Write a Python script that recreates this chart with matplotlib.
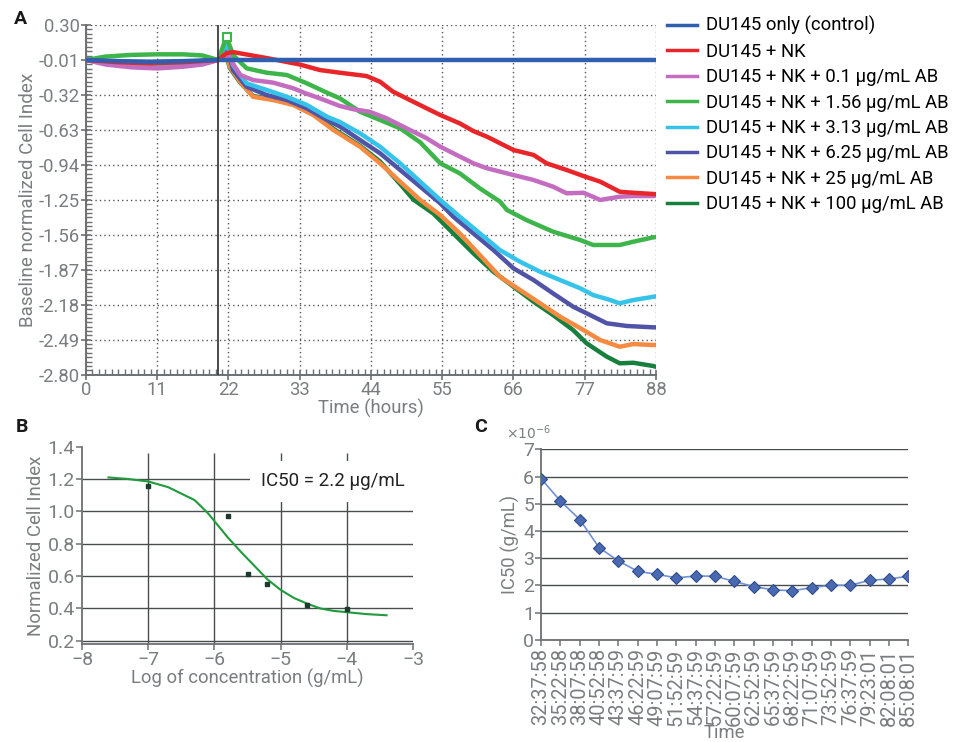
import numpy as np
import matplotlib.pyplot as plt
from matplotlib.ticker import MultipleLocator, AutoMinorLocator, FixedLocator, FuncFormatter

plt.rcParams['font.family'] = ['Roboto', 'DejaVu Sans']

GREY = '#7a7d80'

# ---- panel A: real-time cell index traces ----
t_control = [0, 5, 10, 15, 20.4, 21.7, 30, 44, 60, 77, 88]
v_control = [-0.01, -0.02, -0.025, -0.02, -0.01, -0.01, -0.01, -0.01, -0.01, -0.01, -0.01]

t_nk = [0, 5, 10, 15, 20.4, 21.7, 22.7, 27.9, 33.0, 36.1, 39.2, 43.3, 45.4, 47.4, 50.0,
        52.6, 54.7, 57.7, 59.8, 61.9, 66.0, 69.1, 71.1, 74.2, 76.8, 79.4, 82.4, 84.5, 87.6, 88]
v_nk = [-0.01, -0.03, -0.04, -0.03, -0.01, 0.05, 0.06, 0.007, -0.05, -0.099, -0.123, -0.152,
        -0.203, -0.291, -0.365, -0.439, -0.498, -0.572, -0.640, -0.690, -0.808, -0.852, -0.926,
        -0.985, -1.039, -1.089, -1.178, -1.187, -1.198, -1.20]

t_ab01 = [0, 3, 7, 11, 15, 18, 20.4, 21.7, 23.8, 25.8, 28.9, 32.0, 34.1, 36.1, 39.2, 41.3,
          43.8, 46.4, 49.5, 52.6, 54.7, 56.7, 59.8, 61.9, 66.0, 69.1, 72.1, 74.2, 76.8, 79.4,
          82.4, 84.5, 87.6, 88]
v_ab01 = [-0.01, -0.05, -0.075, -0.085, -0.07, -0.05, -0.01, 0.05, -0.143, -0.188, -0.211,
          -0.261, -0.31, -0.35, -0.418, -0.447, -0.469, -0.527, -0.616, -0.704, -0.779, -0.837,
          -0.926, -0.970, -1.030, -1.074, -1.133, -1.192, -1.187, -1.251, -1.222, -1.216,
          -1.216, -1.21]

t_ab156 = [0, 3, 7, 11, 15, 18, 20.4, 21.7, 22.7, 24.8, 27.9, 31.0, 34.1, 37.2, 39.2, 42.3,
           45.4, 48.5, 51.6, 54.7, 57.7, 60.8, 63.9, 65.0, 68.0, 72.1, 76.3, 78.3, 82.4, 84.5,
           87.6, 88]
v_ab156 = [-0.01, 0.02, 0.035, 0.04, 0.04, 0.03, -0.01, 0.196, 0.034, -0.084, -0.123, -0.143,
           -0.217, -0.300, -0.350, -0.469, -0.542, -0.616, -0.74, -0.926, -1.015, -1.148,
           -1.265, -1.340, -1.429, -1.532, -1.606, -1.650, -1.650, -1.621, -1.582, -1.58]

t_ab313 = [0, 3, 7, 11, 15, 18, 20.4, 21.7, 22.7, 24.8, 27.9, 31.0, 34.1, 37.2, 39.2, 42.3,
           45.4, 48.5, 51.6, 54.7, 57.7, 60.8, 63.9, 67.0, 70.1, 73.2, 76.3, 78.3, 80.5, 82.4,
           84.5, 87.6, 88]
v_ab313 = [-0.01, -0.04, -0.05, -0.055, -0.05, -0.04, -0.01, 0.14, -0.055, -0.217, -0.276,
           -0.336, -0.409, -0.513, -0.56, -0.660, -0.779, -0.926, -1.089, -1.251, -1.399,
           -1.547, -1.695, -1.798, -1.887, -1.961, -2.034, -2.094, -2.13, -2.167, -2.138,
           -2.109, -2.105]

t_ab625 = [0, 3, 7, 11, 15, 18, 20.4, 21.7, 22.7, 24.8, 27.9, 31.0, 34.1, 37.2, 39.2, 42.3,
           45.4, 48.5, 51.6, 54.7, 56.7, 59.8, 62.9, 66.0, 69.1, 72.1, 75.2, 77.3, 80.4, 83.5,
           87.6, 88]
v_ab625 = [-0.01, -0.02, -0.03, -0.03, -0.025, -0.02, -0.01, 0.12, -0.099, -0.247, -0.321,
           -0.365, -0.439, -0.542, -0.60, -0.719, -0.837, -0.985, -1.133, -1.281, -1.399,
           -1.547, -1.695, -1.857, -1.961, -2.079, -2.197, -2.256, -2.344, -2.368, -2.380, -2.38]

t_ab25 = [0, 3, 7, 11, 15, 18, 20.4, 21.7, 22.2, 23.8, 25.8, 28.9, 32.0, 35.1, 38.2, 42.3,
          45.4, 48.5, 51.6, 54.7, 57.7, 60.8, 63.9, 67.0, 70.1, 73.2, 76.8, 79.4, 82.4, 84.5,
          87.6, 88]
v_ab25 = [-0.01, -0.04, -0.06, -0.065, -0.06, -0.045, -0.01, 0.03, -0.069, -0.203, -0.336,
          -0.365, -0.409, -0.498, -0.631, -0.779, -0.926, -1.089, -1.251, -1.385, -1.547,
          -1.739, -1.931, -2.049, -2.167, -2.286, -2.404, -2.493, -2.552, -2.528, -2.537, -2.535]

t_ab100 = [0, 5, 10, 15, 20.4, 21.7, 22.2, 23.8, 25.8, 28.9, 32.0, 35.1, 38.2, 42.3, 45.4,
           48.5, 50.6, 53.6, 56.7, 59.8, 62.9, 66.0, 69.1, 72.1, 75.2, 77.3, 80.4, 82.4, 84.5,
           87.6, 88]
v_ab100 = [-0.01, -0.03, -0.04, -0.03, -0.01, 0.02, -0.08, -0.21, -0.33, -0.36, -0.40, -0.49,
           -0.62, -0.77, -0.91, -1.11, -1.25, -1.37, -1.547, -1.724, -1.887, -2.020, -2.153,
           -2.271, -2.404, -2.522, -2.640, -2.699, -2.694, -2.723, -2.73]

series_labels = ['DU145 only (control)', 'DU145 + NK', 'DU145 + NK + 0.1 µg/mL AB',
                 'DU145 + NK + 1.56 µg/mL AB', 'DU145 + NK + 3.13 µg/mL AB',
                 'DU145 + NK + 6.25 µg/mL AB', 'DU145 + NK + 25 µg/mL AB',
                 'DU145 + NK + 100 µg/mL AB']
series_colors = ['#2f5fae', '#e8262a', '#c46cc0', '#3db54a', '#35c3ea', '#5154a6',
                 '#f68a40', '#17803d']
series_t = [t_control, t_nk, t_ab01, t_ab156, t_ab313, t_ab625, t_ab25, t_ab100]
series_v = [v_control, v_nk, v_ab01, v_ab156, v_ab313, v_ab625, v_ab25, v_ab100]
treatment_time = 20.4

# ---- panel B: dose response at one time point ----
log_conc = [-7.0, -5.8, -5.5, -5.2, -4.6, -4.0]
norm_ci = [1.155, 0.972, 0.614, 0.552, 0.424, 0.399]
fit_x = [-7.6, -7.3, -7.0, -6.7, -6.5, -6.3, -6.1, -6.0, -5.8, -5.6, -5.4, -5.2, -5.0, -4.8,
         -4.6, -4.4, -4.2, -4.0, -3.7, -3.4]
fit_y = [1.21, 1.20, 1.185, 1.15, 1.11, 1.07, 0.99, 0.94, 0.84, 0.75, 0.665, 0.58, 0.515,
         0.465, 0.43, 0.40, 0.385, 0.377, 0.365, 0.358]

# ---- panel C: IC50 over time ----
time_labels = ['32:37:58', '35:22:58', '38:07:58', '40:52:58', '43:37:59', '46:22:59',
               '49:07:59', '51:52:59', '54:37:59', '57:22:59', '60:07:59', '62:52:59',
               '65:37:59', '68:22:59', '71:07:59', '73:52:59', '76:37:59', '79:23:01',
               '82:08:01', '85:08:01']
ic50 = [5.92e-6, 5.10e-6, 4.42e-6, 3.39e-6, 2.90e-6, 2.52e-6, 2.41e-6, 2.28e-6, 2.35e-6,
        2.34e-6, 2.15e-6, 1.96e-6, 1.84e-6, 1.81e-6, 1.92e-6, 2.01e-6, 2.01e-6, 2.19e-6,
        2.24e-6, 2.34e-6]


fig = plt.figure(figsize=(9.68, 7.42), dpi=100)

# panel A
axA = fig.add_axes([0.0888, 0.495, 0.5889, 0.4713])
for i, (t, v, c, lab) in enumerate(zip(series_t, series_v, series_colors, series_labels)):
    z = 10 if i == 0 else 3 + (8 - i) * 0.1
    if i == 3:
        # open square on the peak right after treatment
        axA.plot(t, v, color=c, lw=3.2, label=lab, zorder=z, marker='s', markevery=[7],
                 ms=6, mfc='white', mec=c, mew=1.5)
    else:
        axA.plot(t, v, color=c, lw=3.2, label=lab, zorder=z)
axA.axvline(treatment_time, color='#3a3d3f', lw=1.3, zorder=12)
axA.set_xlim(0, 88)
axA.set_ylim(-2.80, 0.30)
axA.xaxis.set_major_locator(MultipleLocator(11))
axA.xaxis.set_minor_locator(MultipleLocator(1))
a_yticks = np.round(np.arange(0.30, -2.81, -0.31), 2)
axA.yaxis.set_major_locator(FixedLocator(a_yticks))
axA.yaxis.set_minor_locator(AutoMinorLocator(8))
axA.set_yticklabels([f'{y:.2f}' for y in a_yticks])
axA.grid(True, which='major', color='#555555', lw=1.0, ls=(0, (1, 2.2)))
for side in ['top', 'right']:
    axA.spines[side].set_visible(False)
for side in ['left', 'bottom']:
    axA.spines[side].set_color('#6d7073')
    axA.spines[side].set_linewidth(1.4)
axA.tick_params(which='major', direction='inout', length=7, width=1.2, color='#6d7073',
                labelsize=13.3, labelcolor=GREY, pad=1)
axA.tick_params(which='minor', direction='in', length=4, width=1.0, color='#6d7073')
axA.set_xlabel('Time (hours)', fontsize=13.3, color=GREY, labelpad=0)
axA.set_ylabel('Baseline normalized Cell Index', fontsize=13.5, color=GREY, labelpad=1)

leg = fig.legend(*axA.get_legend_handles_labels(), loc='upper left',
                 bbox_to_anchor=(0.678, 0.993), frameon=False, fontsize=13.3,
                 handlelength=1.6, handletextpad=0.5, labelspacing=0.4, borderaxespad=0.2)
for h in leg.get_lines():
    h.set_linewidth(2.5)
    h.set_marker('')

# panel B
axB = fig.add_axes([0.0847, 0.132, 0.342, 0.266])
axB.set_xlim(-8, -3)
axB.set_ylim(0.18, 1.4)
axB.hlines([0.2, 0.4, 0.6, 0.8, 1.0, 1.2], -8, -3, color='#4a4d50', lw=1.0, zorder=1)
axB.vlines([-7, -6, -5, -4], 0.18, 1.36, color='#4a4d50', lw=1.0, zorder=1)
axB.plot(fit_x, fit_y, color='#1f9a3c', lw=1.5, zorder=3)
axB.plot(log_conc, norm_ci, 's', color='#1d3b2c', ms=3, zorder=4)
axB.text(-5.3, 1.185, 'IC50 = 2.2 µg/mL', fontsize=13.5, color='#222222', va='center',
         ha='left', zorder=5,
         bbox=dict(boxstyle='square,pad=0.6', fc='white', ec='none'))
axB.xaxis.set_major_locator(MultipleLocator(1))
axB.set_yticks([0.2, 0.4, 0.6, 0.8, 1.0, 1.2, 1.4])
axB.set_yticklabels(['0.2', '0.4', '0.6', '0.8', '1.0', '1.2', '1.4'])
for side in ['top', 'right']:
    axB.spines[side].set_visible(False)
for side in ['left', 'bottom']:
    axB.spines[side].set_color('#6d7073')
    axB.spines[side].set_linewidth(1.3)
axB.tick_params(direction='out', length=4, width=1.1, color='#6d7073', labelsize=14,
                labelcolor=GREY, pad=1)
axB.set_xlabel('Log of concentration (g/mL)', fontsize=13.3, color=GREY, labelpad=0)
axB.set_ylabel('Normalized Cell Index', fontsize=13.4, color=GREY, labelpad=2)

# panel C, plotted in g/mL with the 1e-6 factor shown above the axis
axC = fig.add_axes([0.559, 0.1375, 0.3794, 0.257])
xs = np.arange(len(time_labels))
axC.plot(xs, ic50, color='#7090d8', lw=1.2, marker='D', ms=6.5, mfc='#4a69b1',
         mec='#2e4c8c', mew=0.8, zorder=4)
axC.set_xlim(0, len(time_labels) - 1)
axC.set_ylim(0, 7e-6)
axC.set_yticks(np.arange(0, 8) * 1e-6)
axC.yaxis.set_major_formatter(FuncFormatter(lambda v, pos: f'{v * 1e6:.0f}'))
axC.text(-0.095, 1.085, r'$\times10^{-6}$', transform=axC.transAxes, fontsize=10,
         color=GREY, ha='left', va='center')
axC.set_xticks(xs)
axC.set_xticklabels(time_labels, rotation=90, fontsize=14.5, color=GREY)
axC.grid(True, axis='y', color='#4a4d50', lw=1.0, zorder=1)
axC.set_axisbelow(True)
for side in ['top', 'right']:
    axC.spines[side].set_visible(False)
for side in ['left', 'bottom']:
    axC.spines[side].set_color('#6d7073')
    axC.spines[side].set_linewidth(1.3)
axC.tick_params(axis='y', direction='out', length=4, width=1.1, color='#6d7073',
                labelsize=14, labelcolor=GREY, pad=1)
axC.tick_params(axis='x', direction='out', length=4, width=1.1, color='#6d7073', pad=2)
axC.set_xlabel('Time', fontsize=13.3, color=GREY, labelpad=-1)
axC.set_ylabel('IC50 (g/mL)', fontsize=13.3, color=GREY, labelpad=2)

# panel letters
for letter, x, y in [('A', 0.014, 0.975), ('B', 0.016, 0.425), ('C', 0.49, 0.425)]:
    fig.text(x, y, letter, fontsize=14, fontweight='bold', color='#1a1a1a',
             ha='left', va='center')

fig.savefig('out.png', dpi=100, facecolor='white')
